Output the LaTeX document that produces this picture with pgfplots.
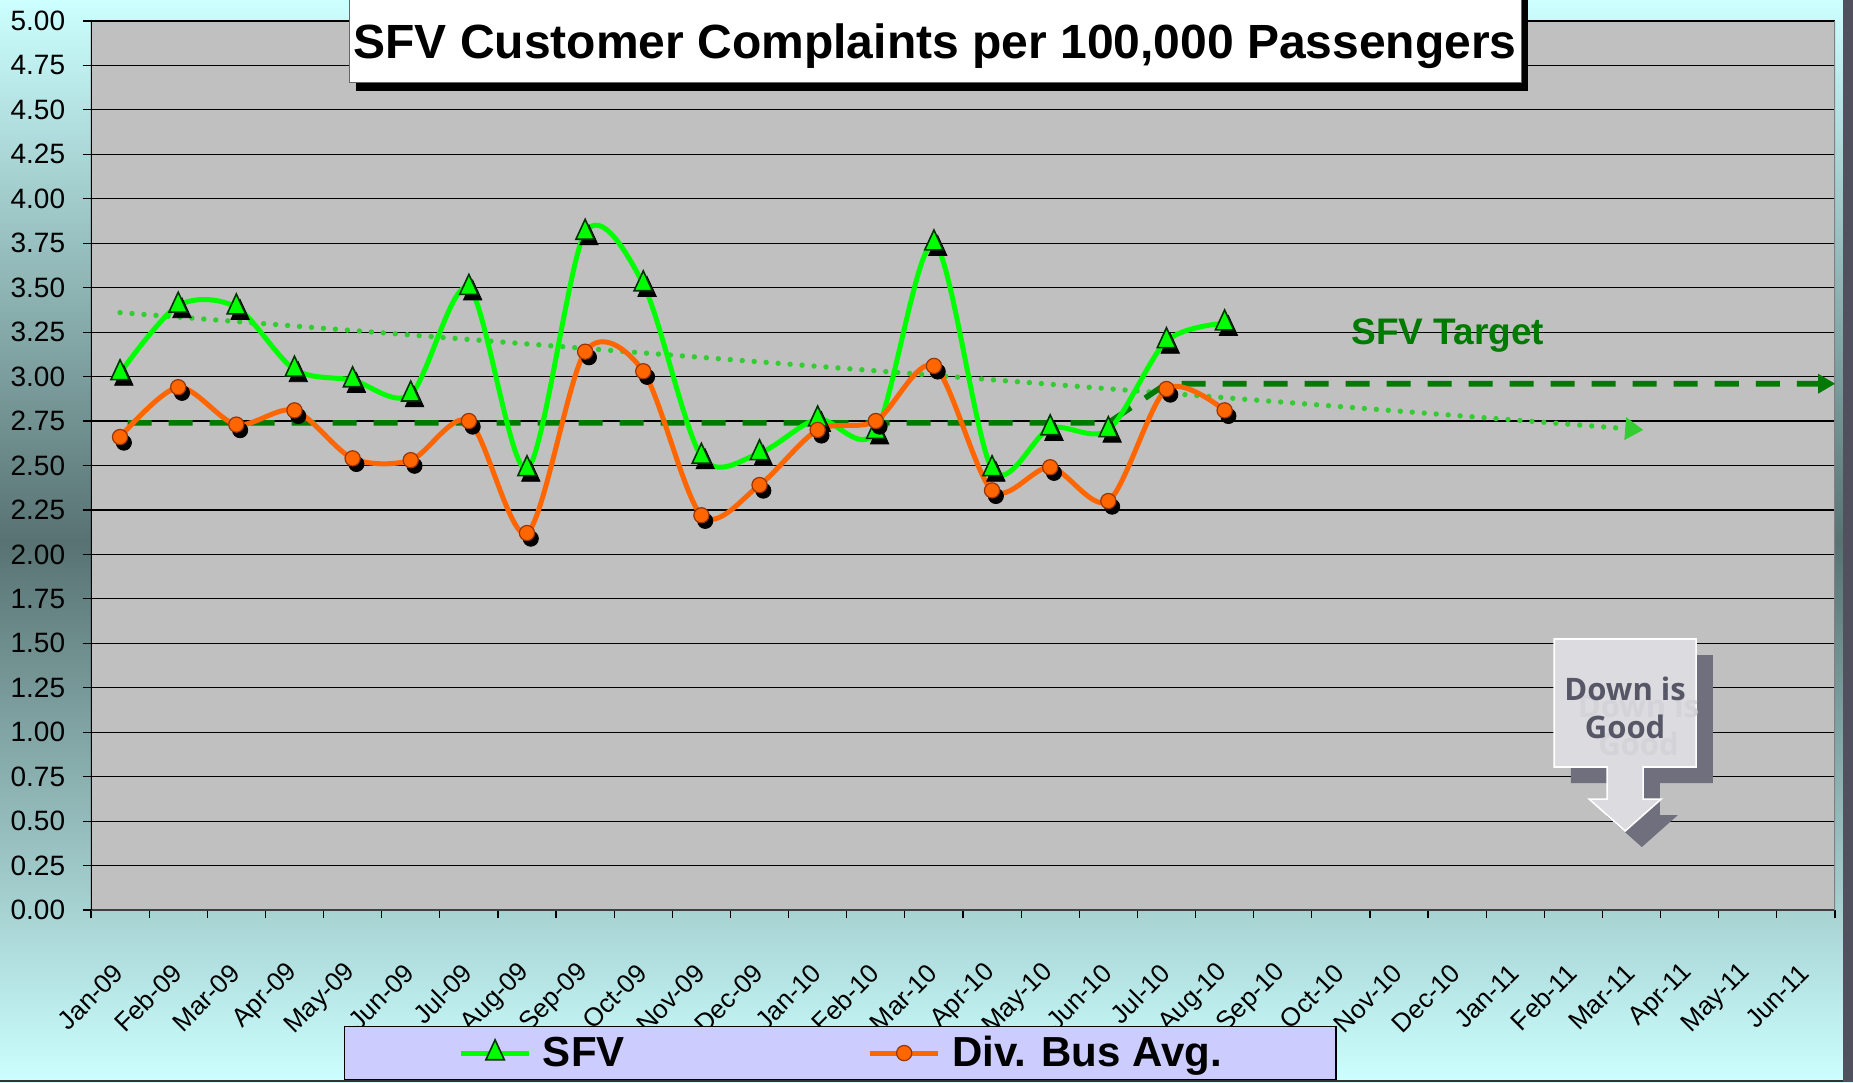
\documentclass[border=0pt]{standalone}
\usepackage{fontspec}
\setmainfont{Liberation Sans}
\newfontfamily\calloutfont{Open Sans}
\usepackage{pgfplots}
\usepackage{pgfplotstable}
\pgfplotsset{compat=1.18}
\usetikzlibrary{arrows.meta}
\newcommand\ytickfont{\fontsize{14}{16}\selectfont}
\newcommand\xtickfont{\fontsize{13}{15}\selectfont}
\newcommand\monthlabel[1]{\ifcase#1 Jan-09\or Feb-09\or Mar-09\or Apr-09\or May-09\or Jun-09\or Jul-09\or Aug-09\or Sep-09\or Oct-09\or Nov-09\or Dec-09\or Jan-10\or Feb-10\or Mar-10\or Apr-10\or May-10\or Jun-10\or Jul-10\or Aug-10\or Sep-10\or Oct-10\or Nov-10\or Dec-10\or Jan-11\or Feb-11\or Mar-11\or Apr-11\or May-11\or Jun-11\fi}
\newcommand\legfont{\bfseries\fontsize{21}{24}\selectfont}
\definecolor{bgtop}{HTML}{CCFFFF}
\definecolor{bgmid}{HTML}{587272}
\definecolor{plotbg}{HTML}{C0C0C0}
\definecolor{sfvgreen}{HTML}{00FF00}
\definecolor{sfvedge}{HTML}{003300}
\definecolor{divorange}{HTML}{FF6600}
\definecolor{divedge}{HTML}{993300}
\definecolor{targetgreen}{HTML}{007A00}
\definecolor{trendgreen}{HTML}{33CC33}
\definecolor{legbg}{HTML}{CCCCFF}
\definecolor{callouttext}{HTML}{565666}
\definecolor{calloutshadow}{HTML}{6F6F7D}
\definecolor{calloutfill}{HTML}{DCDCE0}
\definecolor{calloutghost}{HTML}{D3D3D9}
\definecolor{edgedark}{HTML}{50505E}

\pgfplotstableread{
x sfv div
0 3.02 2.66
1 3.40 2.94
2 3.39 2.73
3 3.04 2.81
4 2.98 2.54
5 2.90 2.53
6 3.50 2.75
7 2.48 2.12
8 3.81 3.14
9 3.52 3.03
10 2.55 2.22
11 2.57 2.39
12 2.76 2.70
13 2.69 2.75
14 3.75 3.06
15 2.48 2.36
16 2.71 2.49
17 2.70 2.30
18 3.20 2.93
19 3.30 2.81
}\datatable

\begin{document}
\begin{tikzpicture}
\useasboundingbox (0,0) rectangle (926.5pt,541pt);
\shade[top color=bgtop, bottom color=bgmid] (0,270pt) rectangle (926.5pt,541pt);
\shade[top color=bgmid, bottom color=bgtop] (0,0) rectangle (926.5pt,270.5pt);
\fill[edgedark] (921.5pt,0) rectangle (926.5pt,541pt);
\begin{axis}[
  at={(45.5pt,86pt)}, anchor=south west,
  scale only axis, width=872pt, height=444.5pt,
  xmin=-0.5, xmax=29.5, ymin=0, ymax=5,
  axis background/.style={fill=plotbg},
  axis line style={draw=none},
  tick pos=left,
  tick align=outside,
  major tick length=4.2pt, minor tick length=4pt,
  ytick distance=0.25,
  ymajorgrids,
  major grid style={black, line width=0.6pt},
  xtick={0,...,29},
  xticklabel={\xtickfont\monthlabel{\ticknum}},
  major x tick style={draw=none},
  minor xtick={-0.5,0.5,...,29.5},
  minor x tick style={black, line width=0.6pt},
  ytick style={black, line width=0.6pt},
  xticklabel style={xshift=-0.5pt, yshift=-25pt, rotate=45, anchor=east, inner sep=0pt},
  yticklabel={\ytickfont\pgfmathprintnumber{\tick}},
  yticklabel style={xshift=-5.2pt, /pgf/number format/fixed, /pgf/number format/fixed zerofill, /pgf/number format/precision=2},
  /pgf/number format/assume math mode=true,
  legend columns=2,
  legend style={at={(0.14507,-0.19123)}, anchor=south west, fill=legbg, draw=black, line width=0.6pt,
    inner xsep=57pt, inner ysep=4.8pt, font=\legfont,
    nodes={inner sep=0pt},
    /tikz/every odd column/.append style={column sep=5.7pt},
    /tikz/every even column/.append style={column sep=121.5pt}},
]
% axis lines
\draw[black!75, line width=1pt] (rel axis cs:0,0) -- (rel axis cs:1,0);
\draw[black, line width=0.8pt] (rel axis cs:0,0) -- (rel axis cs:0,1);
\draw[gray, line width=1pt] (rel axis cs:1,0) -- (rel axis cs:1,1);

% trend and target
\addplot[trendgreen, line width=2.7pt, line cap=round, dash pattern=on 0pt off 6pt,
  -{Triangle[length=9pt,width=11.5pt,line width=0pt]}, forget plot]
  coordinates {(0,3.36) (26.2,2.70)};
\addplot[targetgreen, line width=2.8pt, dash pattern=on 12pt off 8.5pt, dash phase=16.7pt,
  -{Triangle[length=8.5pt,width=10pt,line width=0pt]}, forget plot]
  coordinates {(0,2.74) (17,2.74) (18,2.96) (29.5,2.96)};

% SFV
\addplot[sfvgreen, line width=2.5pt, smooth, forget plot] table[x=x,y=sfv]{\datatable};
\addplot[only marks, mark=triangle*, mark size=5.3pt,
  mark options={xshift=1.9pt, yshift=-2.8pt, yscale=1.25, draw=black, fill=black}, forget plot]
  table[x=x,y=sfv]{\datatable};
\addplot[only marks, mark=triangle*, mark size=5.3pt,
  mark options={yscale=1.25, draw=sfvedge, fill=sfvgreen, line width=0.8pt},
  legend image code/.code={
    \draw[sfvgreen, line width=2.5pt] (0pt,0pt) -- (34pt,0pt);
    \draw[draw=sfvedge, fill=sfvgreen, line width=0.8pt] plot[mark=triangle*, mark size=5.3pt, mark options={yscale=1.25}] coordinates {(17pt,0pt)};
  }]
  table[x=x,y=sfv]{\datatable};
\addlegendentry{SFV}

% Div. Bus Avg.
\addplot[divorange, line width=2.5pt, smooth, forget plot] table[x=x,y=div]{\datatable};
\addplot[only marks, mark=*, mark size=3.8pt,
  mark options={xshift=1.9pt, yshift=-2.8pt, draw=black, fill=black}, forget plot]
  table[x=x,y=div]{\datatable};
\addplot[only marks, mark=*, mark size=3.8pt,
  mark options={draw=divedge, fill=divorange, line width=0.6pt},
  legend image code/.code={
    \draw[divorange, line width=2.5pt] (0pt,0pt) -- (34pt,0pt);
    \draw[draw=divedge, fill=divorange, line width=0.6pt] plot[mark=*, mark size=3.8pt] coordinates {(17pt,0pt)};
  }]
  table[x=x,y=div]{\datatable};
\addlegendentry{Div. Bus Avg.}

% annotation
\node[anchor=base, text=targetgreen, font=\bfseries\fontsize{18.5}{22}\selectfont] at (axis cs:22.84,3.178) {SFV Target};

% Down is Good callout
\fill[calloutshadow] (axis cs:24.957,1.434) -- (axis cs:27.397,1.434) -- (axis cs:27.397,0.714) -- (axis cs:26.487,0.714) -- (axis cs:26.487,0.534) -- (axis cs:26.797,0.534) -- (axis cs:26.177,0.354) -- (axis cs:25.557,0.534) -- (axis cs:25.867,0.534) -- (axis cs:25.867,0.714) -- (axis cs:24.957,0.714) -- cycle;
\filldraw[fill=calloutfill, draw=white, line width=0.8pt] (axis cs:24.67,1.524) -- (axis cs:27.11,1.524) -- (axis cs:27.11,0.804) -- (axis cs:26.20,0.804) -- (axis cs:26.20,0.624) -- (axis cs:26.51,0.624) -- (axis cs:25.89,0.444) -- (axis cs:25.27,0.624) -- (axis cs:25.58,0.624) -- (axis cs:25.58,0.804) -- (axis cs:24.67,0.804) -- cycle;
\node[align=center, text=calloutghost, font=\calloutfont\bfseries\fontsize{15.5}{19}\selectfont] at (axis cs:26.12,1.04) {Down is\\Good};
\node[align=center, text=callouttext, font=\calloutfont\bfseries\fontsize{15.5}{19}\selectfont] at (axis cs:25.89,1.136) {Down is\\Good};
\end{axis}

% title box
\fill[black] (178pt,495.5pt) rectangle (764pt,560pt);
\filldraw[fill=white, draw=black!60, line width=0.5pt] (174.75pt,499.5pt) rectangle (760.5pt,560pt);
\node[anchor=base, font=\bfseries\fontsize{24}{28}\selectfont] at (467.6pt,511.8pt) {SFV Customer Complaints per 100,000 Passengers};

% bottom edge
\fill[black!80] (0,0) rectangle (921.5pt,0.8pt);
\end{tikzpicture}
\end{document}
